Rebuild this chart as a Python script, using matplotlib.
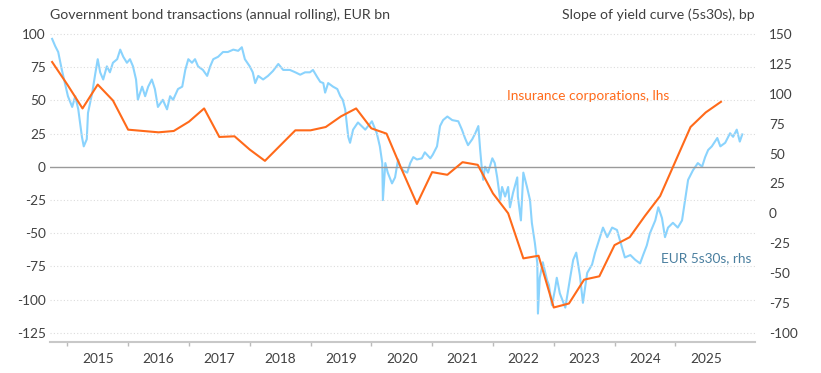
import matplotlib
matplotlib.use("Agg")
import matplotlib.pyplot as plt
import numpy as np

plt.rcParams['font.family'] = ['Lato', 'DejaVu Sans']
plt.rcParams['axes.unicode_minus'] = False

# insurance corporations, quarterly, EUR bn (lhs)
ins_t = [2014.75, 2015.0, 2015.25, 2015.5, 2015.75, 2016.0, 2016.25, 2016.5, 2016.75,
         2017.0, 2017.25, 2017.5, 2017.75, 2018.0, 2018.25, 2018.5, 2018.75, 2019.0,
         2019.25, 2019.5, 2019.75, 2020.0, 2020.25, 2020.5, 2020.75, 2021.0, 2021.25,
         2021.5, 2021.75, 2022.0, 2022.25, 2022.5, 2022.75, 2023.0, 2023.25, 2023.5,
         2023.75, 2024.0, 2024.25, 2024.5, 2024.75, 2025.0, 2025.25, 2025.5, 2025.75]
ins_v = [79, 62, 44, 62, 50, 28, 27, 26, 27,
         34, 44, 22.5, 23, 13, 4.5, 16, 27.5, 27.5,
         30, 38, 44, 29, 25, -2, -28, -4, -6,
         3.5, 1.5, -20, -35, -69, -67, -106, -103, -85,
         -82.5, -59, -53, -37, -22, 4, 30, 41, 49]

# EUR 5s30s slope, bp (rhs)
eur_t = [2014.75, 2014.80, 2014.85, 2014.91, 2014.96, 2015.01, 2015.08, 2015.13, 2015.18, 2015.24,
         2015.27, 2015.32, 2015.34, 2015.41, 2015.46, 2015.50, 2015.54, 2015.59, 2015.65, 2015.70,
         2015.75, 2015.82, 2015.87, 2015.92, 2015.98, 2016.03, 2016.08, 2016.13, 2016.16, 2016.23,
         2016.28, 2016.33, 2016.39, 2016.44, 2016.49, 2016.57, 2016.64, 2016.69, 2016.74, 2016.82,
         2016.89, 2016.94, 2016.99, 2017.05, 2017.10, 2017.15, 2017.23, 2017.30, 2017.35, 2017.40,
         2017.48, 2017.56, 2017.64, 2017.73, 2017.81, 2017.87, 2017.92, 2018.00, 2018.05, 2018.09,
         2018.14, 2018.22, 2018.30, 2018.38, 2018.47, 2018.55, 2018.66, 2018.75, 2018.83, 2018.91,
         2018.99, 2019.04, 2019.11, 2019.16, 2019.21, 2019.24, 2019.29, 2019.37, 2019.44, 2019.49,
         2019.53, 2019.57, 2019.62, 2019.65, 2019.70, 2019.78, 2019.90, 2020.01, 2020.09, 2020.14,
         2020.18, 2020.19, 2020.23, 2020.27, 2020.34, 2020.39, 2020.44, 2020.47, 2020.52, 2020.59,
         2020.64, 2020.69, 2020.75, 2020.83, 2020.88, 2020.97, 2021.01, 2021.08, 2021.13, 2021.18,
         2021.25, 2021.33, 2021.43, 2021.49, 2021.54, 2021.59, 2021.66, 2021.71, 2021.76, 2021.79,
         2021.82, 2021.84, 2021.87, 2021.92, 2021.99, 2022.03, 2022.07, 2022.12, 2022.15, 2022.20,
         2022.25, 2022.28, 2022.33, 2022.40, 2022.41, 2022.46, 2022.50, 2022.56, 2022.61, 2022.64,
         2022.69, 2022.73, 2022.74, 2022.77, 2022.82, 2022.89, 2022.92, 2022.97, 2023.02, 2023.05,
         2023.10, 2023.19, 2023.27, 2023.32, 2023.37, 2023.43, 2023.48, 2023.55, 2023.63, 2023.68,
         2023.73, 2023.81, 2023.88, 2023.96, 2024.04, 2024.12, 2024.17, 2024.26, 2024.34, 2024.42,
         2024.47, 2024.53, 2024.58, 2024.67, 2024.72, 2024.78, 2024.83, 2024.88, 2024.96, 2025.04,
         2025.11, 2025.16, 2025.21, 2025.29, 2025.37, 2025.44, 2025.49, 2025.54, 2025.60, 2025.69,
         2025.74, 2025.82, 2025.90, 2025.95, 2026.01, 2026.06, 2026.10]
eur_v = [146, 140, 135, 120, 109, 98, 89, 98, 87, 64,
         56, 62, 84, 101, 117, 129, 118, 112, 123, 118,
         126, 129, 137, 131, 126, 129, 123, 112, 95, 106,
         98, 106, 112, 104, 89, 95, 87, 98, 95, 104,
         106, 120, 129, 126, 129, 123, 120, 115, 123, 129,
         131, 135, 135, 137, 136, 139, 129, 123, 118, 109,
         115, 112, 115, 119, 125, 120, 120, 118, 116, 118,
         118, 120, 114, 110, 109, 101, 109, 106, 104, 98,
         95, 87, 64, 59, 70, 76, 70, 77, 67, 56,
         42, 11, 42, 34, 25, 30, 45, 39, 36, 34,
         42, 47, 45, 46, 51, 46, 49, 56, 73, 78,
         81, 78, 77, 70, 63, 57, 62, 67, 73, 53,
         36, 28, 39, 34, 46, 42, 30, 11, 22, 14,
         22, 5, 17, 30, 14, -6, 34, 22, 11, -8,
         -25, -42, -84, -54, -41, -56, -60, -77, -64, -54,
         -67, -79, -54, -39, -33, -52, -75, -50, -43, -33,
         -25, -12, -20, -12, -14, -28, -37, -35, -39, -42,
         -35, -27, -17, -6, 5, -4, -20, -12, -8, -12,
         -6, 11, 28, 36, 42, 39, 47, 53, 56, 63,
         56, 59, 67, 64, 70, 60, 66]

years = list(range(2015, 2026))

fig = plt.figure(figsize=(8.21, 3.73), dpi=100)
ax = fig.add_axes([0.0609, 0.0831, 0.8587, 0.829])
ax2 = ax.twinx()
ax.set_zorder(ax2.get_zorder() + 1)
ax.patch.set_visible(False)

ax2.plot(eur_t, eur_v, color='#8ad3fd', lw=1.5, solid_joinstyle='round')
ax.plot(ins_t, ins_v, color='#ff6a1a', lw=1.5)

ax.set_xlim(2014.715, 2026.31)
ax.set_ylim(-132, 101)
ax2.set_ylim(-107.8, 151.1)

ax.set_yticks(range(-125, 101, 25))
ax2.set_yticks(range(-100, 151, 25))
for y in range(-125, 101, 25):
    if y == 0:
        ax.axhline(0, color='#9a9a9a', lw=1.0, zorder=1)
    else:
        ax.axhline(y, color='#dcdcdc', lw=0.8, ls=(0, (1, 2)), zorder=0)

ax.set_xticks([y + 0.5 for y in years])
ax.set_xticklabels([str(y) for y in years])
ax.set_xticks(years, minor=True)
ax.tick_params(axis='x', which='major', length=0, pad=8, labelsize=9.8, colors='#404040')
ax.tick_params(axis='x', which='minor', length=3, width=1, color='#bbbbbb', direction='out')
ax.tick_params(axis='y', length=0, pad=3, labelsize=9.8, labelcolor='#404040')
ax2.tick_params(axis='y', length=0, pad=10, labelsize=9.8, labelcolor='#404040')

for a in (ax, ax2):
    for side in ('top', 'left', 'right', 'bottom'):
        a.spines[side].set_visible(False)
ax.spines['bottom'].set_visible(True)
ax.spines['bottom'].set_color('#c8c8c8')
ax.spines['bottom'].set_linewidth(1.5)

ax.text(2022.23, 53, 'Insurance corporations, lhs', color='#ff6a1a', fontsize=9.9,
        ha='left', va='center')
ax.text(2024.76, -69, 'EUR 5s30s, rhs', color='#4a7f9f', fontsize=9.8,
        ha='left', va='center')

fig.text(0.0609, 0.96, 'Government bond transactions (annual rolling), EUR bn',
         ha='left', va='center', fontsize=10.2, color='#404040')
fig.text(0.9196, 0.96, 'Slope of yield curve (5s30s), bp',
         ha='right', va='center', fontsize=10.2, color='#404040')

fig.savefig('out.png', dpi=100)
